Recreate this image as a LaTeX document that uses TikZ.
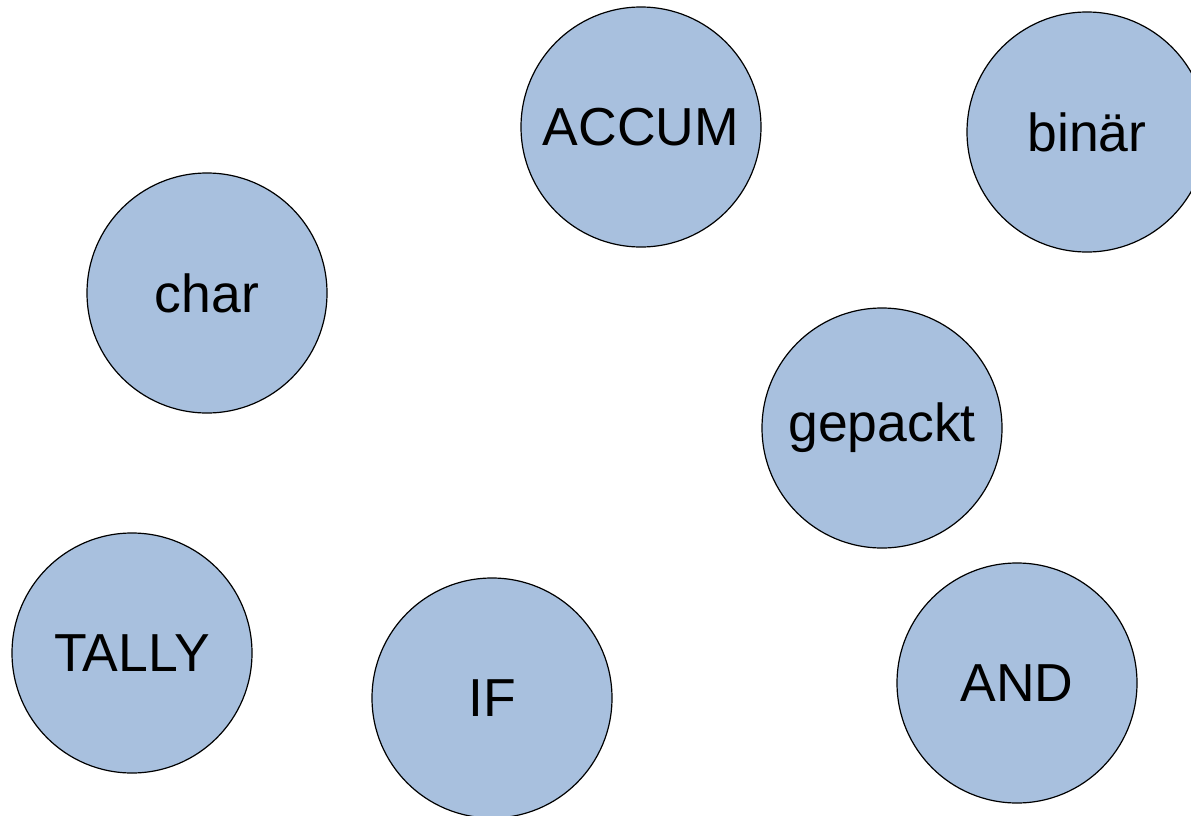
\documentclass[tikz,border=0pt]{standalone}
\usepackage{fontspec}
\setmainfont{Liberation Sans}
\definecolor{bubble}{RGB}{168,192,222}
\begin{document}
\begin{tikzpicture}[x=1pt,y=-1pt,
  bubble/.style={circle,draw=black,line width=1.2pt,fill=bubble,
    minimum size=240pt,inner sep=0pt,
    font=\fontsize{53.5}{60}\selectfont}]
\useasboundingbox (0,0) rectangle (1191,816);
\node[bubble] (accum)   at (641,127) {ACCUM};
\node[bubble] (binaer)  at (1087,132) {binär};
\node[bubble] (char)    at (207,293) {char};
\node[bubble] (gepackt) at (882,428) {gepackt};
\node[bubble] (tally)   at (132,653) {TALLY};
\node[bubble] (if)      at (492,698) {IF};
\node[bubble] (and)     at (1017,683) {AND};
\end{tikzpicture}
\end{document}
